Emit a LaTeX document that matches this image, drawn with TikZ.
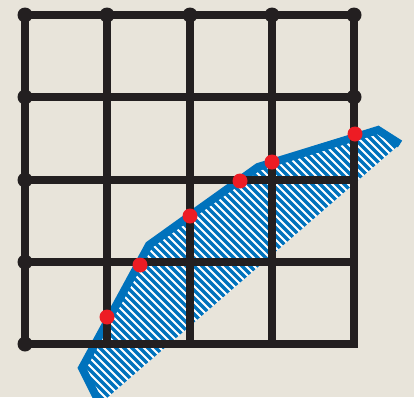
\documentclass[tikz,border=0pt]{standalone}
\begin{document}
\begin{tikzpicture}[x=1pt,y=-1pt]
\definecolor{bg}{HTML}{E8E4DA}
\definecolor{ink}{HTML}{231F20}
\definecolor{bluec}{HTML}{0072BC}
\definecolor{redc}{HTML}{ED1C24}
\tikzset{
  gridline/.style={draw=ink, line width=8pt, line cap=rect},
  bigdot/.style={fill=ink},
  reddot/.style={fill=redc},
  hatchline/.style={draw=bluec, line width=3.2pt},
  border/.style={draw=bluec, line width=8pt, line join=miter}
}
\fill[bg] (0,0) rectangle (414,397);
\useasboundingbox (0,0) rectangle (414,397);
% hatched region
\coordinate (a) at (100,404);
\coordinate (b) at (82,368);
\coordinate (c) at (149,245);
\coordinate (d) at (258,167);
\coordinate (e) at (378,130);
\coordinate (f) at (400,144);
\begin{scope}
  \clip (a) -- (b) -- (c) -- (d) -- (e) -- (f) -- cycle;
  \fill[white] (0,0) rectangle (414,420);
  \foreach \t in {-440,-432,...,420} \draw[hatchline] (\t,0) -- ++(440,440);
\end{scope}
\draw[border] (a) -- (b) -- (c) -- (d) -- (e) -- (f);
% grid
\foreach \x in {25,107,190,272,354} \draw[gridline] (\x,15) -- (\x,344);
\foreach \y in {15,97,180,262,344} \draw[gridline] (25,\y) -- (354,\y);
% junction dots
\foreach \x in {25,107,190,272,354} \fill[bigdot] (\x,15) circle (7.5);
\foreach \y in {97,180,262,344} \fill[bigdot] (25,\y) circle (7.5);
\fill[bigdot] (354,97) circle (7.5);
\foreach \x in {107,190,272} \foreach \y in {97,180,262} \fill[bigdot] (\x,\y) circle (5.5);
% red intersection dots
\foreach \p in {(107,317),(140,265),(190,216),(240,181),(272,162),(355,134)} \fill[reddot] \p circle (7.5);
\end{tikzpicture}
\end{document}
